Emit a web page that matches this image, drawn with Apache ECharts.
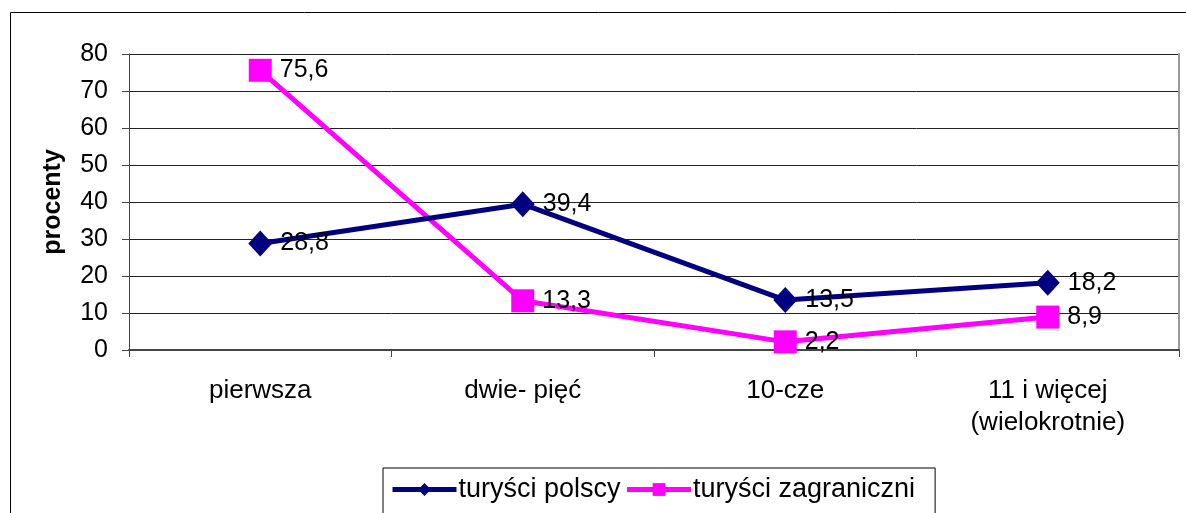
<!DOCTYPE html>
<html>
<head>
<meta charset="utf-8">
<style>
  html, body { margin: 0; padding: 0; background: #fff; }
  #chart { width: 1186px; height: 513px; }
</style>
<script src="https://cdn.jsdelivr.net/npm/echarts@6/dist/echarts.min.js"></script>
</head>
<body>
<div id="chart"></div>
<script>
// dane z wykresu
const categories = ['pierwsza', 'dwie- pięć', '10-cze', '11 i więcej\n(wielokrotnie)']
const polscy = [28.8, 39.4, 13.5, 18.2]
const zagraniczni = [75.6, 13.3, 2.2, 8.9]
const yTicks = { min: 0, max: 80, interval: 10 }

const font = 'Liberation Sans, Arial, sans-serif'
const chart = echarts.init(document.getElementById('chart'))

const labelStyle = {
  show: true,
  position: 'right',
  distance: 8,
  color: '#000',
  fontSize: 25,
  fontFamily: font,
  formatter: p => String(p.value).replace('.', ',')
}

chart.setOption({
  animation: false,
  graphic: [{
    type: 'rect',
    shape: { x: 10.5, y: 12.5, width: 1300, height: 700 },
    style: { fill: 'none', stroke: '#000', lineWidth: 1 },
    silent: true,
    z: -1
  }],
  grid: { left: 129, right: 7, top: 54, bottom: 163 },
  legend: {
    top: 468,
    left: 383,
    itemGap: 4,
    itemWidth: 64,
    itemHeight: 16,
    padding: [8, 20, 20, 7],
    borderColor: '#000',
    borderWidth: 1,
    textStyle: { fontSize: 27, fontFamily: font, color: '#000', padding: [0, 0, 0, -3] },
    data: [
      { name: 'turyści polscy', lineStyle: { width: 5 } },
      { name: 'turyści zagraniczni', lineStyle: { width: 5 } }
    ]
  },
  xAxis: {
    type: 'category',
    data: categories,
    boundaryGap: true,
    axisLine: { lineStyle: { color: '#444', width: 2 } },
    axisTick: { show: true, interval: 0, length: 7, lineStyle: { color: '#444' } },
    axisLabel: { interval: 0, margin: 25, fontSize: 26, lineHeight: 32, fontFamily: font, color: '#000' }
  },
  yAxis: [{
    type: 'value',
    min: yTicks.min,
    max: yTicks.max,
    interval: yTicks.interval,
    name: 'procenty',
    nameLocation: 'middle',
    nameGap: 63,
    nameRotate: 90,
    nameTextStyle: { fontSize: 25, fontWeight: 'bold', fontFamily: font, color: '#000' },
    axisLine: { show: true, lineStyle: { color: '#444', width: 1 } },
    axisTick: { show: true, length: 7, lineStyle: { color: '#444' } },
    axisLabel: { fontSize: 25, fontFamily: font, color: '#000', margin: 21 },
    splitLine: { lineStyle: { color: '#222', width: 1 } }
  }, {
    type: 'value',
    position: 'right',
    min: yTicks.min,
    max: yTicks.max,
    axisLine: { show: true, lineStyle: { color: '#999', width: 2 } },
    axisTick: { show: false },
    axisLabel: { show: false },
    splitLine: { show: false }
  }],
  series: [{
    name: 'turyści polscy',
    type: 'line',
    data: polscy,
    symbol: 'diamond',
    symbolSize: [24, 26],
    itemStyle: { color: '#000080' },
    lineStyle: { color: '#000080', width: 5 },
    label: labelStyle,
    z: 3
  }, {
    name: 'turyści zagraniczni',
    type: 'line',
    data: zagraniczni,
    symbol: 'rect',
    symbolSize: 23,
    itemStyle: { color: '#ff00ff' },
    lineStyle: { color: '#ff00ff', width: 5 },
    label: labelStyle,
    z: 2
  }]
})
</script>
</body>
</html>
